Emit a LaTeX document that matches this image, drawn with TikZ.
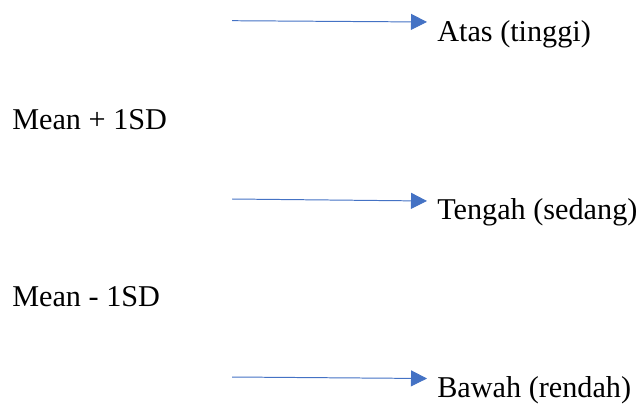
\documentclass[tikz,border=0pt]{standalone}
\usepackage{fontspec}
\setmainfont{Liberation Serif}
\usetikzlibrary{arrows.meta}
\definecolor{arrowblue}{HTML}{4472C4}
\begin{document}
\begin{tikzpicture}[
		label/.style={inner sep=0pt, anchor=base west, font=\fontsize{21.5}{25}\selectfont},
		bluearrow/.style={draw=arrowblue, line width=0.7pt, -{Triangle[length=0.4cm, width=0.4cm]}, arrowblue}
	]
	\useasboundingbox (0,0) rectangle (15.975,-10.075);
	\node[label] (atas) at (10.925,-1.04) {Atas (tinggi)};
	\node[label] (meanplus) at (0.3,-3.23) {Mean + 1SD};
	\node[label] (tengah) at (10.925,-5.475) {Tengah (sedang)};
	\node[label] (meanminus) at (0.3,-7.67) {Mean - 1SD};
	\node[label] (bawah) at (10.925,-9.94) {Bawah (rendah)};
	\coordinate (s1) at (5.8,-0.5175);
	\coordinate (e1) at (10.675,-0.55);
	\coordinate (s2) at (5.8,-4.975);
	\coordinate (e2) at (10.675,-5.025);
	\coordinate (s3) at (5.8,-9.425);
	\coordinate (e3) at (10.675,-9.4625);
	\draw [bluearrow] (s1) -- (e1);
	\draw [bluearrow] (s2) -- (e2);
	\draw [bluearrow] (s3) -- (e3);
\end{tikzpicture}
\end{document}
